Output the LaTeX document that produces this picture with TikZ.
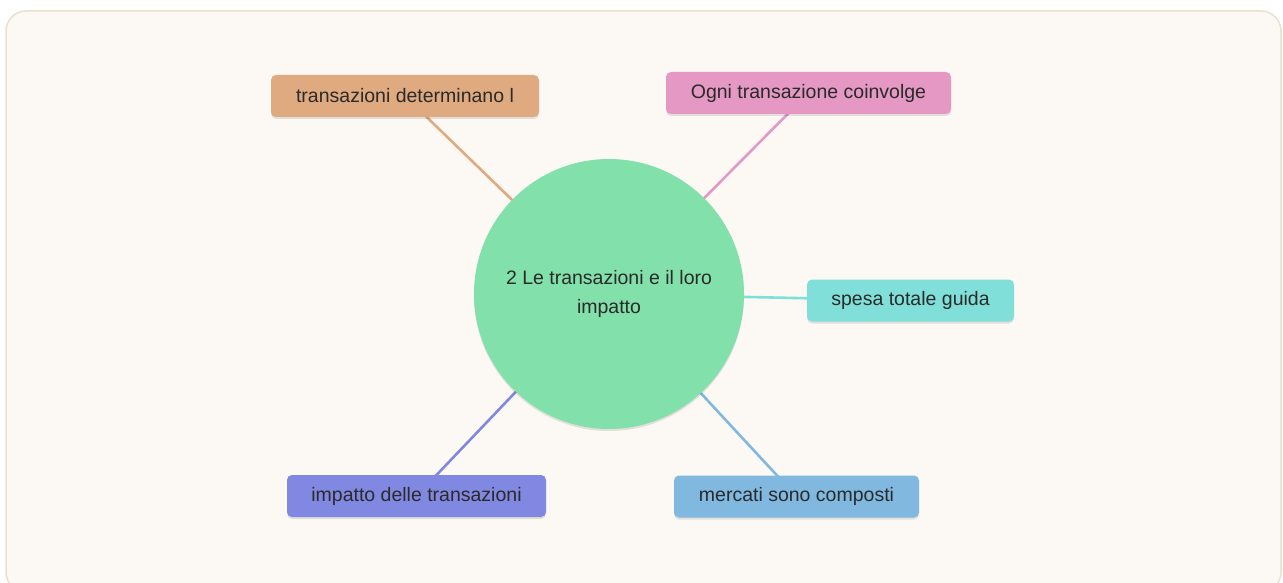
\documentclass[tikz,border=0pt]{standalone}
\usepackage{fontspec}
\setmainfont{Liberation Sans}
\usetikzlibrary{shadows,backgrounds}
\definecolor{bgfill}{HTML}{FCF9F4}
\definecolor{bgline}{HTML}{E9E0CD}
\definecolor{txt}{HTML}{2A2A2A}
\definecolor{cgreen}{HTML}{82E0AA}
\definecolor{corange}{HTML}{E0AA80}
\definecolor{cpink}{HTML}{E598C4}
\definecolor{cteal}{HTML}{80E0D9}
\definecolor{cpurple}{HTML}{8188E1}
\definecolor{cblue}{HTML}{80B8E0}
\tikzset{
  x=1pt, y=-1pt,
  leaf/.style={rounded corners=5pt, minimum height=42pt, inner xsep=0pt, text=txt,
    font=\fontsize{19.5}{23}\selectfont,
    drop shadow={shadow xshift=0pt, shadow yshift=-2pt, opacity=0.10, fill=black}},
  hub/.style={circle, minimum size=270pt, inner sep=0pt, fill=cgreen, text=txt,
    align=center, font=\fontsize{19.5}{30}\selectfont,
    drop shadow={shadow xshift=0pt, shadow yshift=-2pt, opacity=0.10, fill=black}},
  link/.style={line width=2.6pt}
}
\begin{document}
\begin{tikzpicture}
\useasboundingbox (0,0) rectangle (1283,583);
\node[hub] (hub) at (609,294) {2 Le transazioni e il loro\\[-1pt]impatto};
\node[leaf, fill=corange, minimum width=268pt] (n1) at (405,96) {transazioni determinano l};
\node[leaf, fill=cpink, minimum width=285pt] (n2) at (808.5,93) {Ogni transazione coinvolge};
\node[leaf, fill=cteal, minimum width=207pt] (n3) at (910.5,300.5) {spesa totale guida};
\node[leaf, fill=cpurple, minimum width=259pt] (n4) at (416.5,496) {impatto delle transazioni};
\node[leaf, fill=cblue, minimum width=245pt] (n5) at (796.5,496.5) {mercati sono composti};
\begin{pgfonlayer}{background}
\draw[bgline, fill=bgfill, line width=1.5pt, rounded corners=20pt] (6,11) rectangle (1281,592);
\draw[link, corange] (n1.center) -- (hub.center);
\draw[link, cpink] (n2.center) -- (hub.center);
\draw[link, cteal] (n3.center) -- (hub.center);
\draw[link, cpurple] (n4.center) -- (hub.center);
\draw[link, cblue] (n5.center) -- (hub.center);
\end{pgfonlayer}
\end{tikzpicture}
\end{document}
